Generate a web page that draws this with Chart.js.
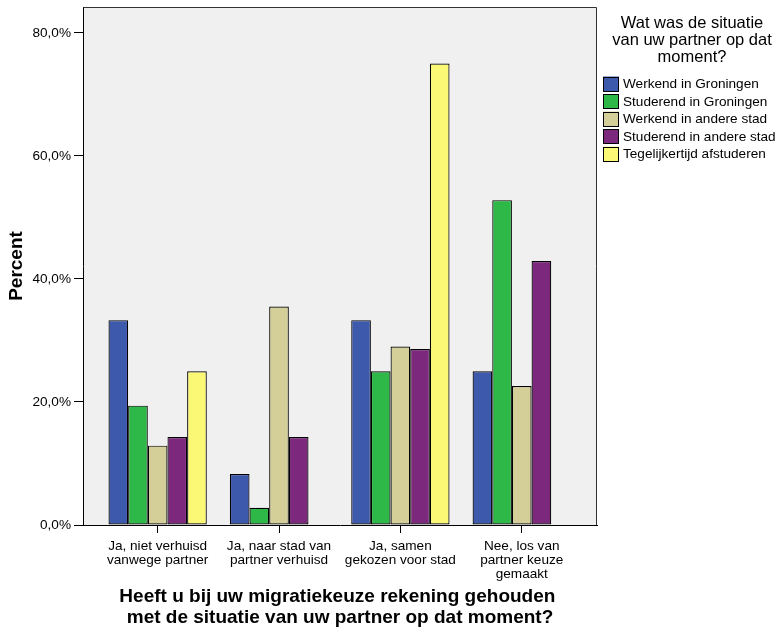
<!DOCTYPE html>
<html lang="nl">
<head>
    <meta charset="UTF-8">
    <title>Partner situatie</title>
    <script src="https://cdn.jsdelivr.net/npm/chart.js"></script>
    <style>
        body { margin: 0; background: #fff; }
    </style>
</head>
<body>
    <canvas id="partnerChart" width="780" height="628"></canvas>
    <script>
        // categories on the x axis (multi-line labels)
        const categories = [
            ['Ja, niet verhuisd', 'vanwege partner'],
            ['Ja, naar stad van', 'partner verhuisd'],
            ['Ja, samen', 'gekozen voor stad'],
            ['Nee, los van', 'partner keuze', 'gemaakt']
        ];

        // percent per partner situation
        const werkendGroningen  = [33.3, 8.3, 33.3, 25.0];
        const studerendGroningen = [19.4, 2.8, 25.0, 52.8];
        const werkendAndere     = [12.9, 35.5, 29.0, 22.6];
        const studerendAndere   = [14.3, 14.3, 28.6, 42.9];
        const tegelijkAfstuderen = [25.0, 0, 75.0, 0];

        const seriesNames = [
            'Werkend in Groningen',
            'Studerend in Groningen',
            'Werkend in andere stad',
            'Studerend in andere stad',
            'Tegelijkertijd afstuderen'
        ];
        const seriesColors = ['#3d59ab', '#2eb848', '#d4cf98', '#7c287c', '#fbf875'];

        const yTicks = [0, 20, 40, 60, 80];
        const legendTitle = ['Wat was de situatie', 'van uw partner op dat', 'moment?'];
        const xTitle = ['Heeft u bij uw migratiekeuze rekening gehouden ', 'met de situatie van uw partner op dat moment?'];
        const yTitle = 'Percent';

        const FONT = "'Liberation Sans', Arial, Helvetica, sans-serif";

        const allSeries = [werkendGroningen, studerendGroningen, werkendAndere, studerendAndere, tegelijkAfstuderen];

        // grey plot frame + white page
        const framePlugin = {
            id: 'frame',
            beforeDraw(chart) {
                const { ctx, chartArea: a } = chart;
                ctx.save();
                ctx.fillStyle = '#fff';
                ctx.fillRect(0, 0, chart.width, chart.height);
                ctx.fillStyle = '#f0f0f0';
                ctx.fillRect(a.left, a.top, a.right - a.left, a.bottom - a.top);
                ctx.restore();
            },
            afterDraw(chart) {
                const { ctx, chartArea: a } = chart;
                ctx.save();
                ctx.strokeStyle = '#333';
                ctx.lineWidth = 1;
                ctx.beginPath();
                ctx.moveTo(Math.round(a.left) + 0.5, Math.round(a.top) + 0.5);
                ctx.lineTo(Math.round(a.right) - 0.5, Math.round(a.top) + 0.5);
                ctx.lineTo(Math.round(a.right) - 0.5, Math.round(a.bottom));
                ctx.stroke();
                ctx.restore();
            }
        };

        // legend on the right, drawn from the datasets
        const sideLegend = {
            id: 'sideLegend',
            afterDraw(chart) {
                const ctx = chart.ctx;
                ctx.save();
                ctx.fillStyle = '#000';
                ctx.textBaseline = 'middle';
                ctx.textAlign = 'center';
                ctx.font = '16.5px ' + FONT;
                legendTitle.forEach((line, i) => ctx.fillText(line, 692, 23.5 + i * 17));

                ctx.textAlign = 'left';
                ctx.font = '13.6px ' + FONT;
                chart.data.datasets.forEach((ds, i) => {
                    const cy = 84 + i * 17.5;
                    ctx.fillStyle = ds.backgroundColor;
                    ctx.fillRect(603, cy - 7.5, 16, 15);
                    ctx.strokeStyle = '#000';
                    ctx.lineWidth = 1;
                    ctx.strokeRect(603.5, Math.round(cy - 7.5) + 0.5, 15, 14);
                    ctx.fillStyle = '#000';
                    ctx.fillText(ds.label, 623, cy + 0.5);
                });
                ctx.restore();
            }
        };

        const ctx = document.getElementById('partnerChart').getContext('2d');
        const chart = new Chart(ctx, {
            type: 'bar',
            data: {
                datasets: allSeries.map((vals, s) => ({
                    label: seriesNames[s],
                    data: vals.map((v, i) => ({ x: i, y: v })),
                    backgroundColor: seriesColors[s],
                    borderColor: '#000',
                    borderWidth: 1.2,
                    borderSkipped: false,
                    categoryPercentage: 0.81,
                    barPercentage: 1
                }))
            },
            options: {
                responsive: false,
                animation: false,
                layout: { padding: { top: 7, right: 183, left: 0, bottom: 0 } },
                plugins: {
                    legend: { display: false },
                    tooltip: { enabled: false }
                },
                scales: {
                    x: {
                        type: 'linear',
                        min: -0.615,
                        max: 3.62,
                        offset: false,
                        afterBuildTicks: (scale) => {
                            scale.ticks = categories.map((c, i) => ({ value: i }));
                        },
                        afterFit: (scale) => {
                            scale.height = 103;
                            scale.paddingLeft = 0;
                            scale.paddingRight = 0;
                        },
                        grid: { offset: false, drawOnChartArea: false, drawTicks: true, tickLength: 8, color: '#000' },
                        border: { display: true, color: '#000' },
                        ticks: {
                            autoSkip: false,
                            maxRotation: 0,
                            padding: 6,
                            color: '#000',
                            font: { family: FONT, size: 13.6, lineHeight: 1.03 },
                            callback: (value) => categories[value]
                        },
                        title: {
                            display: true,
                            text: xTitle,
                            color: '#000',
                            font: { family: FONT, size: 19, weight: 'bold', lineHeight: 1.1 },
                            padding: { top: 0, bottom: 0 }
                        }
                    },
                    y: {
                        min: 0,
                        max: 84.2,
                        afterBuildTicks: (scale) => {
                            scale.ticks = yTicks.map(v => ({ value: v }));
                        },
                        afterFit: (scale) => {
                            scale.width = 83;
                            scale.paddingTop = 0;
                            scale.paddingBottom = 0;
                        },
                        grid: { drawOnChartArea: false, drawTicks: true, tickLength: 9, color: '#000' },
                        border: { display: true, color: '#000' },
                        ticks: {
                            padding: 3,
                            color: '#000',
                            font: { family: FONT, size: 13.6 },
                            callback: (value) => value.toFixed(1).replace('.', ',') + '%'
                        },
                        title: {
                            display: true,
                            text: yTitle,
                            color: '#000',
                            font: { family: FONT, size: 19, weight: 'bold' },
                            padding: { top: 5, bottom: 0 }
                        }
                    }
                }
            },
            plugins: [framePlugin, sideLegend]
        });
    </script>
</body>
</html>
